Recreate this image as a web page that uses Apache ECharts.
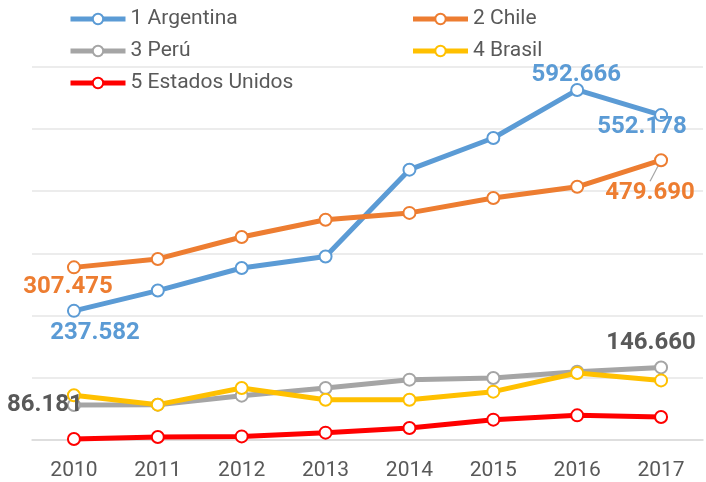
<!DOCTYPE html>
<html>
<head>
<meta charset="utf-8">
<script src="https://cdn.jsdelivr.net/npm/echarts@6/dist/echarts.min.js"></script>
<style>
  html, body { margin: 0; padding: 0; background: #fff; }
  #chart { width: 706px; height: 482px; }
</style>
</head>
<body>
<div id="chart"></div>
<script>
var years = ['2010', '2011', '2012', '2013', '2014', '2015', '2016', '2017'];
var argentina = [237.582, 270.2, 306.5, 325.0, 464.5, 515.4, 592.666, 552.178];
var chile = [307.475, 321.0, 356.3, 384.0, 395.0, 419.0, 437.0, 479.690];
var peru = [86.181, 86.8, 101.3, 113.6, 127.0, 129.7, 139.8, 146.660];
var brasil = [102.0, 86.8, 113.6, 94.8, 94.8, 107.7, 137.7, 125.8];
var eeuu = [31.7, 34.9, 35.8, 41.8, 49.3, 62.7, 69.6, 67.0];

var names = ['1 Argentina', '2 Chile', '3 Perú', '4 Brasil', '5 Estados Unidos'];
var colors = ['#5B9BD5', '#ED7D31', '#A5A5A5', '#FFC000', '#FF0000'];
var values = [argentina, chile, peru, brasil, eeuu];

// etiquetas de datos: índice del punto -> desplazamiento desde el punto
var labelOffsets = {
	0: { 0: [21, 22], 6: [-1, -15], 7: [-19, 12] },
	1: { 0: [-6, 20], 7: [-11, 33] },
	2: { 0: [-29, 0], 7: [-10, -24] }
};
// etiquetas con línea guía
var guideLines = { 1: { 7: true } };
var labelColors = ['#5B9BD5', '#ED7D31', '#595959'];

var font = 'Roboto, "Noto Sans", sans-serif';

var series = values.map(function(vals, s) {
	var offs = labelOffsets[s] || {};
	var guides = guideLines[s] || {};
	return {
		name: names[s],
		type: 'line',
		data: vals.map(function(v, i) {
			if (!offs[i]) return v;
			var item = {
				value: v,
				label: {
					show: true,
					position: 'inside',
					formatter: v.toFixed(3),
					color: labelColors[s],
					fontSize: 24,
					fontWeight: 'bold',
					fontFamily: font
				}
			};
			if (guides[i]) {
				item.labelLine = { show: true, lineStyle: { color: '#A5A5A5', width: 1.2 } };
			}
			return item;
		}),
		labelLayout: function(params) {
			var o = offs[params.dataIndex];
			if (o) return { dx: o[0], dy: o[1] };
		},
		symbol: 'circle',
		symbolSize: 12,
		showAllSymbol: true,
		itemStyle: { color: '#fff', borderColor: colors[s], borderWidth: 2 },
		lineStyle: { color: colors[s], width: 5 },
		emphasis: { disabled: true },
		animation: false
	};
});

var myChart = echarts.init(document.getElementById('chart'));
myChart.setOption({
	backgroundColor: '#fff',
	color: colors,
	legend: {
		data: names,
		left: 68,
		top: 8,
		width: 690,
		padding: 0,
		itemWidth: 55,
		itemHeight: 13,
		itemGap: 10,
		lineStyle: { width: 5 },
		itemStyle: { borderWidth: 2 },
		textStyle: {
			color: '#595959',
			fontSize: 21,
			fontFamily: font,
			width: 270,
			height: 22,
			lineHeight: 22
		}
	},
	grid: { left: 32, right: 3, top: 66.7, bottom: 42 },
	xAxis: {
		type: 'category',
		data: years,
		boundaryGap: true,
		axisLine: { lineStyle: { color: '#D9D9D9', width: 1.5 } },
		axisTick: { show: false },
		axisLabel: { color: '#595959', fontSize: 21, fontFamily: font, margin: 20 }
	},
	yAxis: {
		type: 'value',
		min: 30,
		max: 630,
		interval: 100,
		axisLabel: { show: false },
		axisLine: { show: false },
		axisTick: { show: false },
		splitLine: { lineStyle: { color: '#E6E6E6', width: 1.5 } }
	},
	series: series
});
</script>
</body>
</html>
